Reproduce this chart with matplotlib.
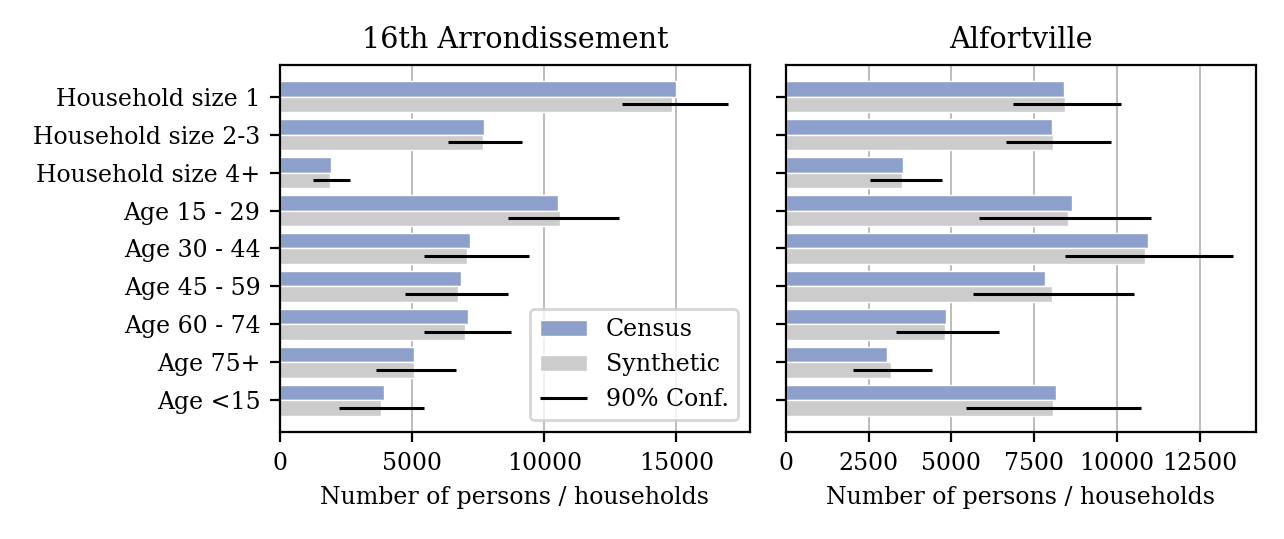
import numpy as np
import matplotlib.pyplot as plt

plt.rcParams['font.family'] = 'DejaVu Serif'
plt.rcParams['font.size'] = 8.5

categories = ['Household size 1', 'Household size 2-3', 'Household size 4+',
              'Age 15 - 29', 'Age 30 - 44', 'Age 45 - 59', 'Age 60 - 74',
              'Age 75+', 'Age <15']

# 16th Arrondissement
paris_census = [14990, 7727, 1922, 10516, 7199, 6860, 7124, 5089, 3920]
paris_synth = [14840, 7665, 1910, 10604, 7086, 6735, 6999, 5064, 3832]
paris_lo = [12940, 6345, 1256, 8644, 5440, 4749, 5440, 3644, 2236]
paris_hi = [16936, 9148, 2651, 12841, 9436, 8644, 8733, 6647, 5440]

# Alfortville
alf_census = [8413, 8042, 3533, 8644, 10933, 7831, 4829, 3051, 8163]
alf_synth = [8443, 8082, 3524, 8524, 10843, 8032, 4819, 3181, 8062]
alf_lo = [6846, 6645, 2539, 5843, 8434, 5642, 3343, 2036, 5440]
alf_hi = [10120, 9819, 4729, 11012, 13512, 10512, 6425, 4428, 10723]

panels = [
    ('16th Arrondissement', paris_census, paris_synth, paris_lo, paris_hi),
    ('Alfortville', alf_census, alf_synth, alf_lo, alf_hi),
]

fig, axes = plt.subplots(1, 2, figsize=(6.42, 2.695), dpi=200, sharey=True)
y = np.arange(len(categories))

for ax, (title, census, synth, lo, hi) in zip(axes, panels):
    b1 = ax.barh(y - 0.2, census, height=0.4, color='#8da0cb', edgecolor='white',
                 linewidth=0.5, label='Census', zorder=2)
    b2 = ax.barh(y + 0.2, synth, height=0.4, color='#cccccc', edgecolor='white',
                 linewidth=0.5, label='Synthetic', zorder=2)
    ci = ax.hlines(y + 0.2, lo, hi, color='black', linewidth=1.1,
                   label='90% Conf.', zorder=3)
    ax.set_title(title, fontsize=10.3)
    ax.set_xlabel('Number of persons / households', fontsize=8.5)
    ax.grid(axis='x', color='#b0b0b0', linewidth=0.6, zorder=0)
    ax.set_axisbelow(True)
    if ax is axes[0]:
        handles = [b1, b2, ci]

axes[0].set_yticks(y)
axes[0].set_yticklabels(categories)
axes[0].invert_yaxis()
axes[0].legend(handles=handles, loc='lower right', fontsize=8.5)

fig.subplots_adjust(left=0.218, right=0.978, top=0.88, bottom=0.198, wspace=0.076)
fig.savefig('out.png', dpi=200)
